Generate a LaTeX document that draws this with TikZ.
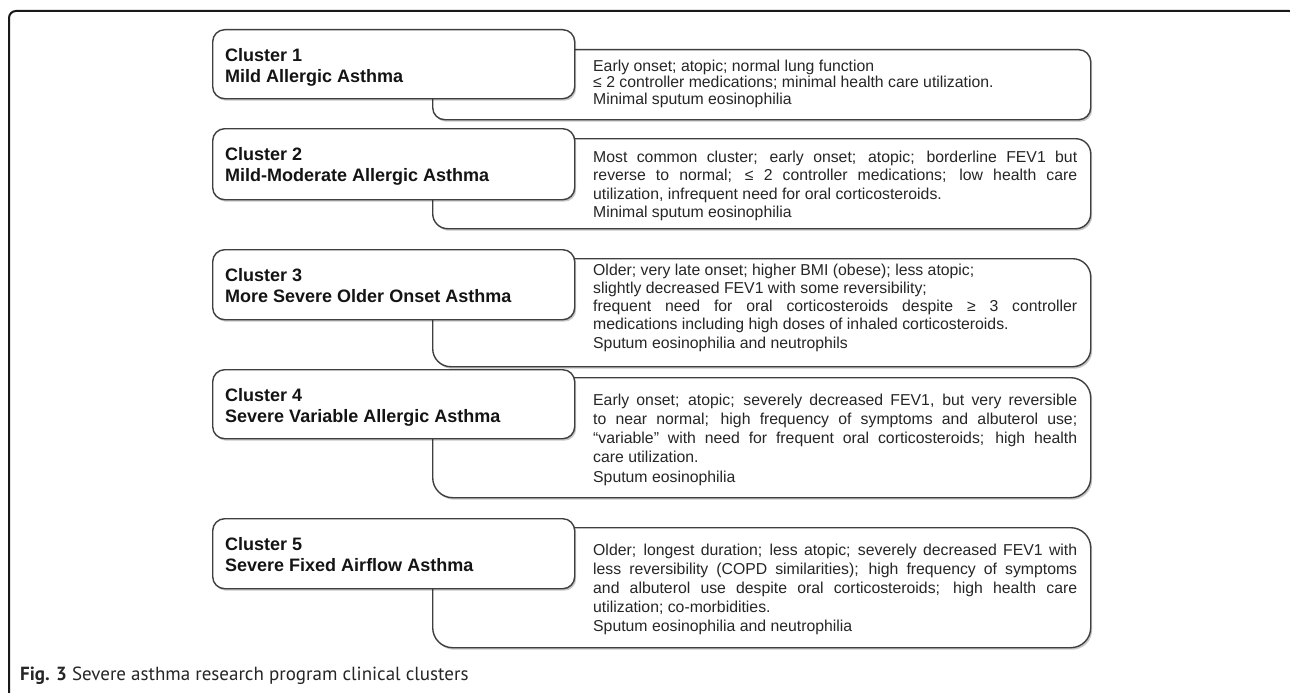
\documentclass[tikz,border=0pt]{standalone}
\usepackage{fontspec}
\setmainfont{Liberation Sans}
\newfontfamily\capfont{PT Sans}
\usetikzlibrary{shadows}
\definecolor{edge}{HTML}{3F3F3F}
\definecolor{txt}{HTML}{262626}
\newcommand\jline[1]{\makebox[\linewidth][s]{#1}}
\begin{document}
\begin{tikzpicture}[x=1pt,y=-1pt,
  boxbase/.style={draw=edge, line width=1.4pt, fill=white, anchor=north west, inner sep=0pt,
    drop shadow={shadow xshift=1.5pt, shadow yshift=-2pt, opacity=0.22, fill=black}},
  tbox/.style={boxbase, rounded corners=12pt, minimum width=362pt},
  dbox/.style={boxbase, rounded corners=#1, minimum width=658pt},
  ttext/.style={anchor=base west, inner sep=0pt, font=\fontsize{18}{21}\selectfont\bfseries, text=black!92},
  dtext/.style={anchor=base west, inner sep=0pt, font=\fontsize{15.8}{#1}\selectfont, text=txt},
  frameline/.style={line width=2pt, draw=black!90, rounded corners=7pt}
]
\useasboundingbox (0,0) rectangle (1290,693);
\fill[white] (0,0) rectangle (1290,693);

% frame
\coordinate (fa) at (9,693);
\coordinate (fb) at (9,11);
\coordinate (fc) at (1296,11);
\coordinate (fd) at (1296,40);
\draw[frameline] (fa) -- (fb) -- (fc) -- (fd);

% cluster 1
\node[dbox=12pt, minimum height=70pt] (d1) at (432,49) {};
\node[tbox, minimum height=69pt] (t1) at (212,29) {};
\node[ttext] (n1) at (225,61.5) {\parbox[t]{340pt}{Cluster 1\\Mild Allergic Asthma}};
\node[dtext=16.5] (x1) at (593,71) {\parbox[t]{484pt}{%
Early onset; atopic; normal lung function\\
≤ 2 controller medications; minimal health care utilization.\\
Minimal sputum eosinophilia}};

% cluster 2
\node[dbox=15pt, minimum height=90pt] (d2) at (432,138) {};
\node[tbox, minimum height=71pt] (t2) at (212,128) {};
\node[ttext] (n2) at (225,160.5) {\parbox[t]{340pt}{Cluster 2\\Mild-Moderate Allergic Asthma}};
\node[dtext=18.5] (x2) at (593,162) {\parbox[t]{484pt}{%
\jline{Most common cluster; early onset; atopic; borderline FEV1 but}\\
\jline{reverse to normal; ≤ 2 controller medications; low health care}\\
utilization, infrequent need for oral corticosteroids.\\
Minimal sputum eosinophilia}};

% cluster 3
\node[dbox=18pt, minimum height=108pt] (d3) at (432,258) {};
\node[tbox, minimum height=70pt] (t3) at (212,249) {};
\node[ttext] (n3) at (225,281.5) {\parbox[t]{340pt}{Cluster 3\\More Severe Older Onset Asthma}};
\node[dtext=18.3] (x3) at (593,275) {\parbox[t]{484pt}{%
Older; very late onset; higher BMI (obese); less atopic;\\
slightly decreased FEV1 with some reversibility;\\
\jline{frequent need for oral corticosteroids despite ≥ 3 controller}\\
medications including high doses of inhaled corticosteroids.\\
Sputum eosinophilia and neutrophils}};

% cluster 4
\node[dbox=20pt, minimum height=120pt] (d4) at (432,377) {};
\node[tbox, minimum height=69pt] (t4) at (212,369) {};
\node[ttext] (n4) at (225,401) {\parbox[t]{340pt}{Cluster 4\\Severe Variable Allergic Asthma}};
\node[dtext=19.3] (x4) at (593,405) {\parbox[t]{484pt}{%
\jline{Early onset; atopic; severely decreased FEV1, but very reversible}\\
\jline{to near normal; high frequency of symptoms and albuterol use;}\\
\jline{“variable” with need for frequent oral corticosteroids; high health}\\
care utilization.\\
Sputum eosinophilia}};

% cluster 5
\node[dbox=20pt, minimum height=120pt] (d5) at (432,527) {};
\node[tbox, minimum height=70pt] (t5) at (212,518) {};
\node[ttext] (n5) at (225,550.5) {\parbox[t]{340pt}{Cluster 5\\Severe Fixed Airflow Asthma}};
\node[dtext=19] (x5) at (593,555) {\parbox[t]{484pt}{%
\jline{Older; longest duration; less atopic; severely decreased FEV1 with}\\
\jline{less reversibility (COPD similarities); high frequency of symptoms}\\
\jline{and albuterol use despite oral corticosteroids; high health care}\\
utilization; co-morbidities.\\
Sputum eosinophilia and neutrophilia}};

% caption
\node[anchor=base west, inner sep=0pt, font=\capfont\fontsize{19}{22}\selectfont, text=black!85] (cap) at (20,680)
  {\textbf{Fig. 3} Severe asthma research program clinical clusters};
\end{tikzpicture}
\end{document}
